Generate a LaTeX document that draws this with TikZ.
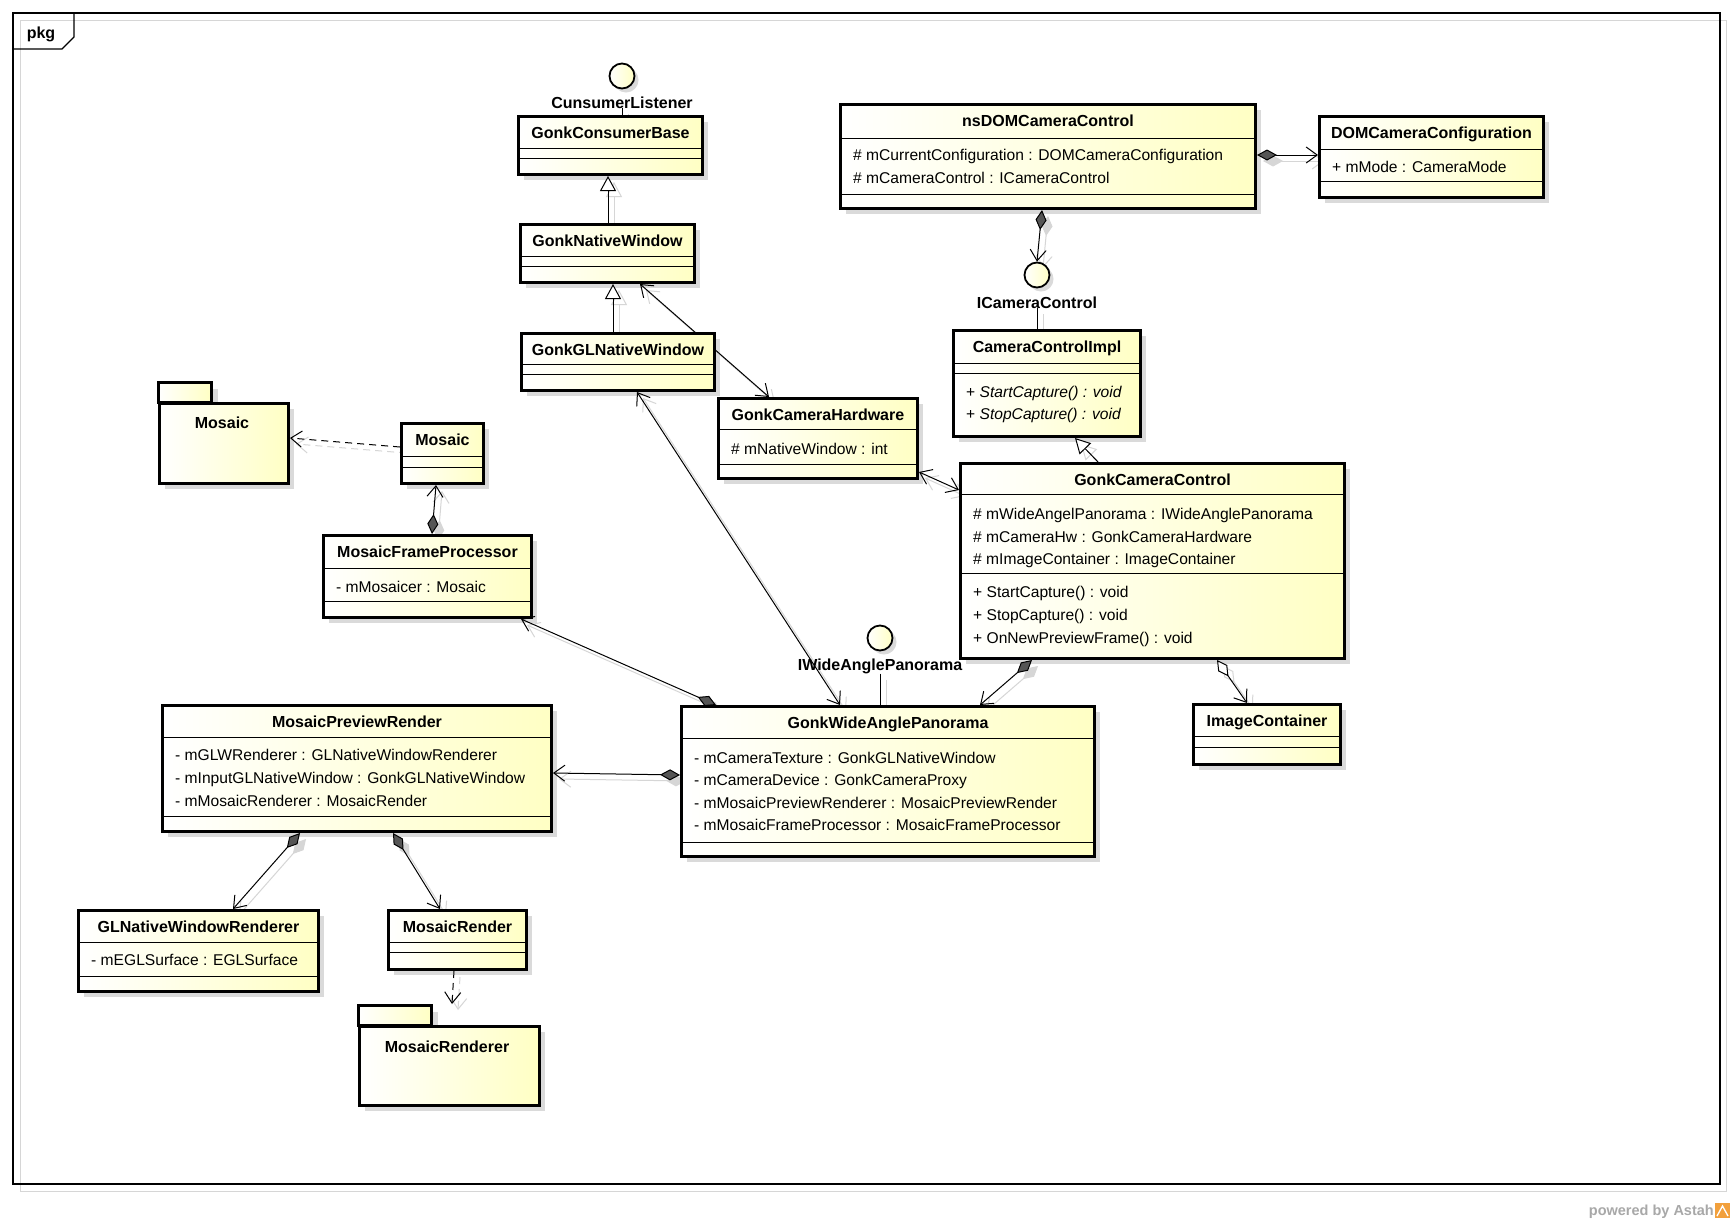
\documentclass[tikz,border=0pt]{standalone}
\usepackage{fontspec}
\setmainfont{Liberation Sans}
\usetikzlibrary{arrows.meta,calc}
\pgfdeclarelayer{back}
\pgfdeclarelayer{bg}
\pgfdeclarelayer{edges}
\pgfsetlayers{back,bg,edges,main}
\definecolor{cyel}{RGB}{255,255,196}
\definecolor{boxsh}{RGB}{218,218,218}
\definecolor{lnsh}{RGB}{214,214,214}
\definecolor{diag}{RGB}{85,85,85}
\definecolor{astahgray}{RGB}{168,168,168}
\definecolor{astahorange}{RGB}{242,160,60}
\tikzset{
  cls/.style={draw=black, line width=3pt, rectangle, inner sep=0pt, anchor=north west, left color=white, right color=cyel},
  pkgtab/.style={draw=black, line width=3pt, left color=white, right color=cyel},
  sepl/.style={draw=black, line width=1pt},
  ttl/.style={font=\bfseries\fontsize{16}{19}\selectfont, inner sep=0pt, anchor=base},
  attr/.style={font=\fontsize{15.6}{19}\selectfont, inner sep=0pt, anchor=base west},
  ifc/.style={circle, draw=black, line width=1.8pt, minimum size=25pt, inner sep=0pt, left color=white, right color=cyel},
  cl/.style={draw=black, line width=1pt},
  sl/.style={draw=lnsh, line width=1pt, transform canvas={shift={(6pt,-6pt)}}},
  depline/.style={dash pattern=on 7pt off 5pt},
  umlopen/.tip={Straight Barb[length=11pt,width=16pt]},
  umltri/.tip={Triangle[length=15pt,width=16pt,fill=white]},
  umltris/.tip={Triangle[open,length=15pt,width=16pt]},
  umlcomp/.tip={Diamond[length=20pt,width=11pt,fill=diag]},
  umlcomps/.tip={Diamond[length=20pt,width=11pt,fill=lnsh]},
  umlagg/.tip={Diamond[length=20pt,width=11pt,fill=white]},
  umlaggs/.tip={Diamond[open,length=20pt,width=11pt]},
}
% class box: name, x, y, w, h
\newcommand{\umlcls}[5]{%
  \begin{pgfonlayer}{bg}\fill[boxsh] (#2+7,#3+7) rectangle ++(#4,#5);\end{pgfonlayer}%
  \node[cls, minimum width=#4pt, minimum height=#5pt] (#1) at (#2,#3) {};}
\newcommand{\umlsep}[2]{\draw[sepl] ($(#1.north west)+(0,#2)$) -- ($(#1.north east)+(0,#2)$);}
\newcommand{\umltitle}[3]{\node[ttl] (#1-t) at ($(#1.north)+(0,#2)$) {#3};}
\newcommand{\umlattr}[4]{\node[attr] (#1-#2) at ($(#1.north west)+(14,#3)$) {#4};}
% package: name, x, tabtop, tabw, bodytop, w, h
\newcommand{\umlpkg}[7]{%
  \begin{pgfonlayer}{bg}\fill[boxsh] (#2+7,#3+7) rectangle (#2+#4+7,#5+7);\fill[boxsh] (#2+7,#5+7) rectangle ++(#6,#7);\end{pgfonlayer}%
  \draw[pkgtab] (#2,#3) rectangle (#2+#4,#5);
  \node[cls, minimum width=#6pt, minimum height=#7pt] (#1) at (#2,#5) {};}
% interface: name, x, y, label, label baseline
\newcommand{\umlif}[5]{%
  \begin{pgfonlayer}{bg}\fill[boxsh] (#2+4,#3+4) circle (12.5pt);\end{pgfonlayer}%
  \node[ifc] (#1) at (#2,#3) {};
  \node[ttl] (#1-l) at (#2,#5) {#4};}
% edge: main opts, shadow opts, from, to
\newcommand{\umledge}[4]{%
  \begin{pgfonlayer}{bg}\draw[sl,#2] #3 -- #4;\end{pgfonlayer}%
  \begin{pgfonlayer}{edges}\draw[cl,#1] #3 -- #4;\end{pgfonlayer}}

\begin{document}
\begin{tikzpicture}[x=1pt,y=-1pt]
\useasboundingbox (0,0) rectangle (1733,1224);
\begin{pgfonlayer}{back}
  \fill[white] (0,0) rectangle (1733,1224);
  \draw[lnsh, line width=1pt] (20,20) rectangle (1726,1191);
  \draw[black, line width=1.2pt] (13,13) rectangle (1720,1184);
  \draw[black, line width=1.2pt] (13,49) -- (62,49) -- (74,37) -- (74,13);
\end{pgfonlayer}
\node[ttl] (pkglbl) at (41,38) {pkg};

% ---------- classes ----------
\umlcls{gcb}{517}{115}{184}{58}
\umlsep{gcb}{33}\umlsep{gcb}{43}
\umltitle{gcb}{23}{GonkConsumerBase}

\umlcls{gnw}{519}{223}{174}{58}
\umlsep{gnw}{33}\umlsep{gnw}{43}
\umltitle{gnw}{23}{GonkNativeWindow}

\umlcls{gglnw}{520}{332}{193}{57}
\umlsep{gglnw}{32}\umlsep{gglnw}{42}
\umltitle{gglnw}{23}{GonkGLNativeWindow}

\umlcls{nsdom}{839}{103}{415}{104}
\umlsep{nsdom}{35}\umlsep{nsdom}{91}
\umltitle{nsdom}{23}{nsDOMCameraControl}
\umlattr{nsdom}{a1}{57}{\# mCurrentConfiguration : DOMCameraConfiguration}
\umlattr{nsdom}{a2}{80}{\# mCameraControl : ICameraControl}

\umlcls{dcc}{1318}{115}{224}{81}
\umlsep{dcc}{34}\umlsep{dcc}{66}
\umltitle{dcc}{23}{DOMCameraConfiguration}
\umlattr{dcc}{a1}{57}{+ mMode : CameraMode}

\umlcls{cci}{952}{329}{187}{106}
\umlsep{cci}{34}\umlsep{cci}{44}
\umltitle{cci}{23}{CameraControlImpl}
\umlattr{cci}{m1}{68}{+ \textit{StartCapture() : void}}
\umlattr{cci}{m2}{90}{+ \textit{StopCapture() : void}}

\umlcls{gch}{717}{397}{199}{80}
\umlsep{gch}{32}\umlsep{gch}{67}
\umltitle{gch}{23}{GonkCameraHardware}
\umlattr{gch}{a1}{57}{\# mNativeWindow : int}

\umlcls{gcc}{959}{462}{384}{195}
\umlsep{gcc}{32}\umlsep{gcc}{111}
\umltitle{gcc}{23}{GonkCameraControl}
\umlattr{gcc}{a1}{57}{\# mWideAngelPanorama : IWideAnglePanorama}
\umlattr{gcc}{a2}{80}{\# mCameraHw : GonkCameraHardware}
\umlattr{gcc}{a3}{102}{\# mImageContainer : ImageContainer}
\umlattr{gcc}{m1}{135}{+ StartCapture() : void}
\umlattr{gcc}{m2}{158}{+ StopCapture() : void}
\umlattr{gcc}{m3}{181}{+ OnNewPreviewFrame() : void}

\umlcls{imc}{1192}{703}{147}{60}
\umlsep{imc}{33}\umlsep{imc}{44}
\umltitle{imc}{23}{ImageContainer}

\umlcls{mos}{400}{422}{82}{60}
\umlsep{mos}{34}\umlsep{mos}{45}
\umltitle{mos}{23}{Mosaic}

\umlcls{mfp}{322}{534}{208}{82}
\umlsep{mfp}{34}\umlsep{mfp}{67}
\umltitle{mfp}{23}{MosaicFrameProcessor}
\umlattr{mfp}{a1}{58}{- mMosaicer : Mosaic}

\umlcls{mpr}{161}{704}{389}{126}
\umlsep{mpr}{33}\umlsep{mpr}{112}
\umltitle{mpr}{23}{MosaicPreviewRender}
\umlattr{mpr}{a1}{56}{- mGLWRenderer : GLNativeWindowRenderer}
\umlattr{mpr}{a2}{79}{- mInputGLNativeWindow : GonkGLNativeWindow}
\umlattr{mpr}{a3}{102}{- mMosaicRenderer : MosaicRender}

\umlcls{gwap}{680}{705}{413}{150}
\umlsep{gwap}{33}\umlsep{gwap}{137}
\umltitle{gwap}{23}{GonkWideAnglePanorama}
\umlattr{gwap}{a1}{58}{- mCameraTexture : GonkGLNativeWindow}
\umlattr{gwap}{a2}{80}{- mCameraDevice : GonkCameraProxy}
\umlattr{gwap}{a3}{103}{- mMosaicPreviewRenderer : MosaicPreviewRender}
\umlattr{gwap}{a4}{125}{- mMosaicFrameProcessor : MosaicFrameProcessor}

\umlcls{glnwr}{77}{909}{240}{81}
\umlsep{glnwr}{33}\umlsep{glnwr}{67}
\umltitle{glnwr}{23}{GLNativeWindowRenderer}
\umlattr{glnwr}{a1}{56}{- mEGLSurface : EGLSurface}

\umlcls{mr}{387}{909}{138}{59}
\umlsep{mr}{33}\umlsep{mr}{43}
\umltitle{mr}{23}{MosaicRender}

% ---------- packages ----------
\umlpkg{mospkg}{158}{382}{53}{402}{129}{80}
\node[ttl] (mospkg-t) at (222,428) {Mosaic};
\umlpkg{mrpkg}{358}{1005}{73}{1025}{180}{79}
\node[ttl] (mrpkg-t) at (447,1052) {MosaicRenderer};

% ---------- interfaces ----------
\umlif{cl}{622}{76}{CunsumerListener}{108}
\umlif{icc}{1037}{275}{ICameraControl}{308}
\umlif{iwap}{880}{638}{IWideAnglePanorama}{670}

% ---------- connectors ----------
\umledge{-{umltri}}{-{umltris}}{($(gnw.north west)+(89,0)$)}{($(gcb.south west)+(91,0)$)}
\umledge{-{umltri}}{-{umltris}}{($(gglnw.north west)+(93,0)$)}{($(gnw.south west)+(94,0)$)}
\umledge{-{umltri}}{-{umltris}}{($(gcc.north west)+(139,0)$)}{($(cci.south west)+(123,0)$)}

\umledge{{umlopen}-{umlopen}}{{umlopen}-{umlopen}}{($(gnw.south west)+(121,0)$)}{($(gch.north west)+(52,0)$)}
\umledge{{umlopen}-{umlopen}}{{umlopen}-{umlopen}}{($(gglnw.south west)+(117,0)$)}{($(gwap.north west)+(160,0)$)}
\umledge{{umlopen}-{umlopen}}{{umlopen}-{umlopen}}{($(gch.north east)+(0,75)$)}{($(gcc.north west)+(0,28)$)}

\umledge{{umlcomp}-{umlopen}}{{umlcomps}-{umlopen}}{($(gwap.north west)+(36,0)$)}{($(mfp.south east)+(-12,0)$)}
\umledge{{umlcomp}-{umlopen}}{{umlcomps}-{umlopen}}{($(gwap.north west)+(0,70)$)}{($(mpr.north east)+(0,69)$)}
\umledge{{umlcomp}-{umlopen}}{{umlcomps}-{umlopen}}{($(gcc.south west)+(73,0)$)}{($(gwap.north east)+(-116,0)$)}
\umledge{{umlagg}-{umlopen}}{{umlaggs}-{umlopen}}{($(gcc.south west)+(258,0)$)}{($(imc.north west)+(55,0)$)}
\umledge{{umlcomp}-{umlopen}}{{umlcomps}-{umlopen}}{($(nsdom.north east)+(0,52)$)}{($(dcc.north west)+(0,40)$)}
\umledge{{umlcomp}-{umlopen}}{{umlcomps}-{umlopen}}{($(nsdom.south west)+(203,0)$)}{(icc.north)}
\umledge{{umlcomp}-{umlopen}}{{umlcomps}-{umlopen}}{($(mfp.north west)+(110,0)$)}{($(mos.south west)+(36,0)$)}
\umledge{{umlcomp}-{umlopen}}{{umlcomps}-{umlopen}}{($(mpr.south west)+(139,0)$)}{($(glnwr.north west)+(156,0)$)}
\umledge{{umlcomp}-{umlopen}}{{umlcomps}-{umlopen}}{($(mpr.south west)+(232,0)$)}{($(mr.north west)+(53,0)$)}

\umledge{depline,-{umlopen}}{depline,-{umlopen}}{($(mos.north west)+(0,25)$)}{($(mospkg.north east)+(0,36)$)}
\umledge{depline,-{umlopen}}{depline,-{umlopen}}{($(mr.south west)+(67,0)$)}{($(mrpkg.north west)+(94,-21)$)}

\umledge{}{}{(icc-l.south)}{(icc-l.south |- cci.north)}
\umledge{}{}{(iwap-l.south)}{(iwap-l.south |- gwap.north)}
\umledge{}{}{(cl-l.south)}{(cl-l.south |- gcb.north)}

% ---------- footer ----------
\node[font=\bfseries\fontsize{14.5}{17}\selectfont, text=astahgray, anchor=base east, inner sep=0pt] (powered) at (1714,1215) {powered by Astah};
\fill[astahorange] (1715,1203) rectangle (1730,1218);
\draw[white, line width=1.3pt] (1717,1216) -- (1722.5,1206) -- (1728,1216);
\end{tikzpicture}
\end{document}
